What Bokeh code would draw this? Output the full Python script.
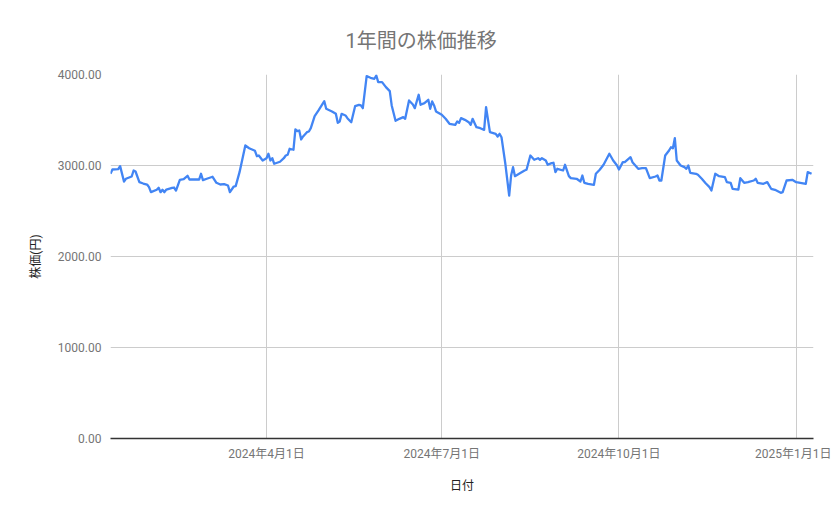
import pandas as pd
from bokeh.plotting import figure
from bokeh.models import Range1d, FixedTicker, NumeralTickFormatter
from bokeh.embed import file_html
from bokeh.resources import INLINE

dates = [
    "2024-01-11", "2024-01-12", "2024-01-15", "2024-01-16", "2024-01-18", "2024-01-19",
    "2024-01-22", "2024-01-23", "2024-01-24", "2024-01-26", "2024-01-28", "2024-01-30",
    "2024-01-31", "2024-02-01", "2024-02-04", "2024-02-05", "2024-02-06", "2024-02-07",
    "2024-02-08", "2024-02-09", "2024-02-12", "2024-02-13", "2024-02-14", "2024-02-16",
    "2024-02-18", "2024-02-20", "2024-02-21", "2024-02-26", "2024-02-27", "2024-02-28",
    "2024-03-01", "2024-03-04", "2024-03-06", "2024-03-08", "2024-03-10", "2024-03-12",
    "2024-03-13", "2024-03-15", "2024-03-16", "2024-03-18", "2024-03-21", "2024-03-23",
    "2024-03-26", "2024-03-27", "2024-03-28", "2024-03-30", "2024-04-01", "2024-04-02",
    "2024-04-03", "2024-04-04", "2024-04-05", "2024-04-08", "2024-04-10", "2024-04-11",
    "2024-04-12", "2024-04-13", "2024-04-15", "2024-04-16", "2024-04-17", "2024-04-18",
    "2024-04-19", "2024-04-20", "2024-04-22", "2024-04-23", "2024-04-24", "2024-04-26",
    "2024-04-28", "2024-05-01", "2024-05-02", "2024-05-05", "2024-05-07", "2024-05-08",
    "2024-05-09", "2024-05-10", "2024-05-12", "2024-05-13", "2024-05-15", "2024-05-17",
    "2024-05-19", "2024-05-20", "2024-05-21", "2024-05-23", "2024-05-25", "2024-05-27",
    "2024-05-28", "2024-05-29", "2024-05-31", "2024-06-02", "2024-06-04", "2024-06-05",
    "2024-06-07", "2024-06-09", "2024-06-11", "2024-06-12", "2024-06-14", "2024-06-16",
    "2024-06-17", "2024-06-19", "2024-06-20", "2024-06-22", "2024-06-24", "2024-06-25",
    "2024-06-26", "2024-06-27", "2024-06-28", "2024-07-01", "2024-07-03", "2024-07-05",
    "2024-07-08", "2024-07-09", "2024-07-10", "2024-07-11", "2024-07-13", "2024-07-15",
    "2024-07-16", "2024-07-17", "2024-07-19", "2024-07-21", "2024-07-23", "2024-07-24",
    "2024-07-26", "2024-07-29", "2024-07-30", "2024-07-31", "2024-08-01", "2024-08-03",
    "2024-08-05", "2024-08-06", "2024-08-07", "2024-08-08", "2024-08-11", "2024-08-13",
    "2024-08-14", "2024-08-16", "2024-08-18", "2024-08-20", "2024-08-21", "2024-08-22",
    "2024-08-24", "2024-08-25", "2024-08-27", "2024-08-28", "2024-08-29", "2024-08-30",
    "2024-09-02", "2024-09-03", "2024-09-05", "2024-09-06", "2024-09-09", "2024-09-11",
    "2024-09-12", "2024-09-13", "2024-09-15", "2024-09-18", "2024-09-19", "2024-09-21",
    "2024-09-23", "2024-09-26", "2024-09-28", "2024-09-30", "2024-10-01", "2024-10-03",
    "2024-10-04", "2024-10-07", "2024-10-08", "2024-10-11", "2024-10-13", "2024-10-15",
    "2024-10-17", "2024-10-20", "2024-10-21", "2024-10-22", "2024-10-23", "2024-10-25",
    "2024-10-27", "2024-10-28", "2024-10-29", "2024-10-30", "2024-10-31", "2024-11-02",
    "2024-11-04", "2024-11-05", "2024-11-06", "2024-11-07", "2024-11-10", "2024-11-11",
    "2024-11-13", "2024-11-15", "2024-11-17", "2024-11-18", "2024-11-20", "2024-11-22",
    "2024-11-25", "2024-11-26", "2024-11-28", "2024-11-29", "2024-12-02", "2024-12-03",
    "2024-12-05", "2024-12-07", "2024-12-10", "2024-12-11", "2024-12-12", "2024-12-15",
    "2024-12-17", "2024-12-19", "2024-12-21", "2024-12-24", "2024-12-25", "2024-12-27",
    "2024-12-30", "2025-01-01", "2025-01-06", "2025-01-07", "2025-01-09",
]

prices = [
    2909, 2956, 2960, 2993, 2824, 2854,
    2879, 2945, 2934, 2817, 2802, 2791,
    2762, 2707, 2733, 2755, 2707, 2733,
    2707, 2736, 2755, 2758, 2725, 2843,
    2850, 2887, 2846, 2846, 2909, 2839,
    2854, 2876, 2810, 2791, 2795, 2780,
    2707, 2769, 2773, 2927, 3220, 3190,
    3162, 3102, 3110, 3055, 3080, 3129,
    3055, 3080, 3019, 3041, 3080, 3110,
    3118, 3184, 3173, 3396, 3377, 3385,
    3286, 3319, 3366, 3374, 3410, 3542,
    3605, 3707, 3623, 3594, 3568, 3469,
    3484, 3568, 3550, 3520, 3476, 3652,
    3667, 3660, 3630, 3982, 3964, 3953,
    3989, 3916, 3916, 3861, 3817, 3660,
    3491, 3513, 3531, 3513, 3715, 3671,
    3630, 3777, 3667, 3685, 3722, 3623,
    3704, 3660, 3594, 3557, 3513, 3458,
    3447, 3484, 3469, 3520, 3502, 3476,
    3447, 3513, 3421, 3410, 3392, 3641,
    3366, 3348, 3319, 3348, 3311, 3019,
    2670, 2890, 2982, 2883, 2920, 2945,
    2953, 3110, 3063, 3080, 3063, 3080,
    3055, 3008, 3026, 3030, 2927, 2964,
    2945, 3008, 2883, 2861, 2854, 2824,
    2890, 2810, 2799, 2788, 2909, 2953,
    3008, 3129, 3055, 3000, 2956, 3037,
    3037, 3092, 3037, 2964, 2971, 2971,
    2861, 2879, 2890, 2835, 2835, 3110,
    3165, 3201, 3190, 3300, 3055, 3000,
    2982, 2964, 3000, 2920, 2909, 2898,
    2854, 2805, 2762, 2725, 2909, 2883,
    2872, 2817, 2810, 2744, 2736, 2861,
    2810, 2817, 2835, 2854, 2810, 2799,
    2817, 2744, 2733, 2700, 2707, 2835,
    2843, 2817, 2799, 2927, 2909,
]

x_start = "2024-01-11"
x_end = "2025-01-10"
tick_dates = ["2024-04-01", "2024-07-01", "2024-10-01", "2025-01-01"]
tick_labels = ["2024年4月1日", "2024年7月1日", "2024年10月1日", "2025年1月1日"]
y_ticks = [0, 1000, 2000, 3000, 4000]

title_text = "1年間の株価推移"
x_label = "日付"
y_label = "株価(円)"

FONT = "Roboto, 'Noto Sans CJK JP', sans-serif"

x = pd.to_datetime(dates)

p = figure(
    width=831, height=511,
    x_axis_type="datetime",
    output_backend="svg",
    toolbar_location=None,
    min_border_left=110, min_border_right=18,
    min_border_top=74, min_border_bottom=73,
    x_range=Range1d(pd.Timestamp(x_start), pd.Timestamp(x_end)),
    y_range=Range1d(0, 4000),
)
p.outline_line_color = None
p.background_fill_color = "white"
p.border_fill_color = "white"

p.line(x, prices, line_color="#4285F4", line_width=2.3, line_join="round")

# title
p.title.text = title_text
p.title.align = "left"
p.title.vertical_align = "top"
p.title.text_font = FONT
p.title.text_font_size = "20px"
p.title.text_font_style = "normal"
p.title.text_color = "#757575"
p.title.offset = 235
p.title.standoff = 40

# x axis
tick_ms = [int(pd.Timestamp(d).value // 10**6) for d in tick_dates]
xa = p.xaxis[0]
xa.ticker = FixedTicker(ticks=tick_ms)
xa.major_label_overrides = {t: l for t, l in zip(tick_ms, tick_labels)}
xa.axis_label = x_label
xa.axis_label_text_font = FONT
xa.axis_label_text_font_size = "12px"
xa.axis_label_text_font_style = "normal"
xa.axis_label_text_color = "#222222"
xa.axis_label_standoff = 15
xa.major_label_text_font = FONT
xa.major_label_text_font_size = "12px"
xa.major_label_text_color = "#757575"
xa.major_label_standoff = 2
xa.axis_line_color = "#333333"
xa.axis_line_width = 1.3
xa.major_tick_line_color = None
xa.minor_tick_line_color = None

# y axis
ya = p.yaxis[0]
ya.ticker = FixedTicker(ticks=y_ticks)
ya.formatter = NumeralTickFormatter(format="0.00")
ya.axis_label = y_label
ya.axis_label_text_font = FONT
ya.axis_label_text_font_size = "12px"
ya.axis_label_text_font_style = "normal"
ya.axis_label_text_color = "#222222"
ya.axis_label_standoff = 12
ya.major_label_text_font = FONT
ya.major_label_text_font_size = "12px"
ya.major_label_text_color = "#757575"
ya.major_label_standoff = 3
ya.axis_line_color = None
ya.major_tick_line_color = None
ya.minor_tick_line_color = None

p.xgrid.grid_line_color = "#cccccc"
p.ygrid.grid_line_color = "#cccccc"
p.xgrid.grid_line_width = 1
p.ygrid.grid_line_width = 1

open("out.html", "w").write(file_html(p, INLINE))
